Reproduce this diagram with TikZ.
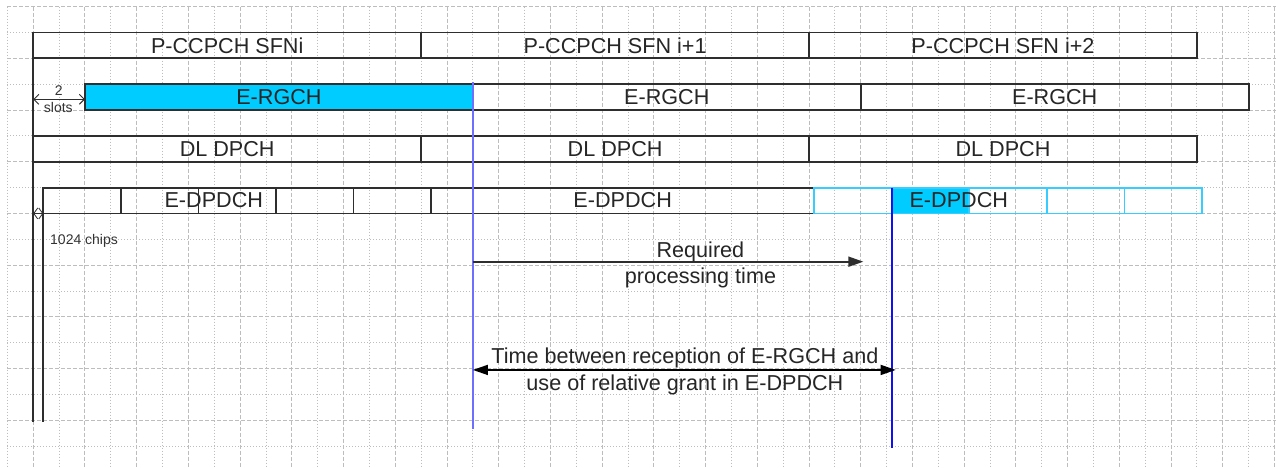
\documentclass[tikz,border=0pt]{standalone}
\usepackage{fontspec}
\setmainfont{Liberation Sans}
\usetikzlibrary{arrows.meta,fit}

\definecolor{gridgray}{HTML}{BDBDBD}
\definecolor{boxline}{HTML}{2E2E2E}
\definecolor{ercyan}{HTML}{00CCFF}
\definecolor{edgecyan}{HTML}{38CCFF}
\definecolor{markblue}{HTML}{6E6EFF}
\definecolor{grantblue}{HTML}{1010F0}

\newcommand{\mainsize}{\fontsize{21.6pt}{26.7pt}\selectfont}
\newcommand{\smallsize}{\fontsize{14pt}{16pt}\selectfont}

\tikzset{
  gridline/.style={draw=gridgray, line width=1pt},
  majorgrid/.style={gridline, dash pattern=on 4pt off 2pt},
  minorgrid/.style={gridline, dash pattern=on 1pt off 2pt},
  chan/.style={draw=boxline, line width=1.8pt, inner sep=0pt, outer sep=0pt},
  hotchan/.style={chan, fill=ercyan},
  nextchan/.style={chan, draw=edgecyan, line width=1.8pt},
  hotnext/.style={nextchan, fill=ercyan},
  caption/.style={font=\mainsize, text=black!85, inner sep=0pt, align=center},
  tiny/.style={font=\smallsize, text=black!80, inner sep=0pt},
  timeline/.style={draw=boxline, line width=1.8pt},
  span/.style={draw=boxline, line width=0.9pt, {Straight Barb[length=5pt,width=10pt]}-{Straight Barb[length=5pt,width=10pt]}},
  bigtip/.style={-{Triangle[length=15pt,width=10pt]}},
}

\begin{document}
\begin{tikzpicture}[x=25.86pt, y=-25.86pt]
  % canvas
  \useasboundingbox (-0.2862,-0.2552) rectangle (49.057,17.842);
  \fill[white] (-0.2862,-0.2552) rectangle (49.057,17.842);

  % background grid: dashed and dotted lines alternate
  \foreach \k in {1,3,...,49} \draw[majorgrid] (\k,0) -- (\k,17.842);
  \foreach \k in {0,2,...,48} \draw[minorgrid] (\k,0) -- (\k,17.842);
  \foreach \k in {0,2,...,16} \draw[majorgrid] (0,\k) -- (49.057,\k);
  \foreach \k in {1,3,...,17} \draw[minorgrid] (0,\k) -- (49.057,\k);

  % P-CCPCH frames
  \node[chan, fit={(1,1) (16,2)}]  (p1) {};
  \node[chan, fit={(16,1) (31,2)}] (p2) {};
  \node[chan, fit={(31,1) (46,2)}] (p3) {};
  \node[caption] (p1t) at (p1.center) {P-CCPCH SFNi};
  \node[caption] (p2t) at (p2.center) {P-CCPCH SFN i+1};
  \node[caption] (p3t) at (p3.center) {P-CCPCH SFN i+2};

  % E-RGCH frames, two slots later
  \node[hotchan, fit={(3,3) (18,4)}] (r1) {};
  \node[chan, fit={(18,3) (33,4)}]   (r2) {};
  \node[chan, fit={(33,3) (48,4)}]   (r3) {};
  \node[caption] (r1t) at (r1.center) {E-RGCH};
  \node[caption] (r2t) at (r2.center) {E-RGCH};
  \node[caption] (r3t) at (r3.center) {E-RGCH};

  % DL DPCH frames
  \node[chan, fit={(1,5) (16,6)}]  (d1) {};
  \node[chan, fit={(16,5) (31,6)}] (d2) {};
  \node[chan, fit={(31,5) (46,6)}] (d3) {};
  \node[caption] (d1t) at (d1.center) {DL DPCH};
  \node[caption] (d2t) at (d2.center) {DL DPCH};
  \node[caption] (d3t) at (d3.center) {DL DPCH};

  % E-DPDCH: first frame split into subframes
  \node[caption] (e1t) at (7.98,7.5) {E-DPDCH};
  \foreach \j [evaluate=\j as \a using 1.387+3*(\j-1),
               evaluate=\j as \b using 1.387+3*\j] in {1,...,5}
    \node[chan, fit={(\a,7) (\b,8)}] (s\j) {};

  % E-DPDCH: second frame
  \node[chan, fit={(16.387,7) (31.2,8)}] (e2) {};
  \node[caption] (e2t) at (e2.center) {E-DPDCH};

  % E-DPDCH: third frame, subframe carrying the relative grant
  \node[nextchan, fit={(31.2,7) (34.2,8)}] (c1) {};
  \node[hotnext,  fit={(34.2,7) (37.2,8)}] (c2) {};
  \node[nextchan, fit={(37.2,7) (40.2,8)}] (c3) {};
  \node[nextchan, fit={(40.2,7) (43.2,8)}] (c4) {};
  \node[nextchan, fit={(43.2,7) (46.2,8)}] (c5) {};
  \node[caption] (e3t) at (36.79,7.5) {E-DPDCH};

  % timing references on the left
  \coordinate (leftend)  at (1,16.05);
  \coordinate (chipend)  at (1.387,16.05);
  \draw[timeline] (p1.north west) -- (leftend);
  \draw[timeline] (s1.north west) -- (chipend);

  % two-slot offset of the E-RGCH
  \coordinate (slotA) at (1,3.584);
  \coordinate (slotB) at (3,3.584);
  \draw[span] (slotA) -- (slotB);
  \node[tiny] (two)   at (1.99,3.25) {2};
  \node[tiny] (slots) at (1.97,3.90) {slots};

  % 1024-chip offset of the E-DPDCH
  \coordinate (chipA) at (1,8);
  \coordinate (chipB) at (1.387,8);
  \draw[draw=boxline, line width=0.8pt,
        {Straight Barb[length=4pt,width=11pt]}-{Straight Barb[length=4pt,width=11pt]}]
        (chipA) -- (chipB);
  \node[tiny, anchor=west] (chips) at (1.647,9.05) {1024 chips};

  % end of E-RGCH reception and start of the granted subframe
  \coordinate (rxtop) at (18,2.92);
  \coordinate (rxbot) at (18,16.33);
  \coordinate (usetop) at (34.2,7);
  \coordinate (usebot) at (34.2,17.06);
  \draw[draw=markblue, line width=1.6pt] (rxtop) -- (rxbot);
  \draw[draw=grantblue, line width=1.4pt] (usetop) -- (usebot);

  % required processing time
  \coordinate (procA) at (18,9.864);
  \coordinate (procB) at (33.1,9.864);
  \draw[draw=boxline, line width=1.8pt, bigtip] (procA) -- (procB);
  \node[caption] (proc) at (26.8,9.99) {Required\\processing time};

  % reception-to-use interval
  \coordinate (gapA) at (18,14.05);
  \coordinate (gapB) at (34.35,14.05);
  \draw[draw=black, line width=1.5pt,
        {Triangle[length=15pt,width=10pt]}-{Triangle[length=15pt,width=10pt]}]
        (gapA) -- (gapB);
  \node[caption] (gap) at (26.2,14.11)
    {Time between reception of E-RGCH and\\use of relative grant in E-DPDCH};
\end{tikzpicture}
\end{document}
